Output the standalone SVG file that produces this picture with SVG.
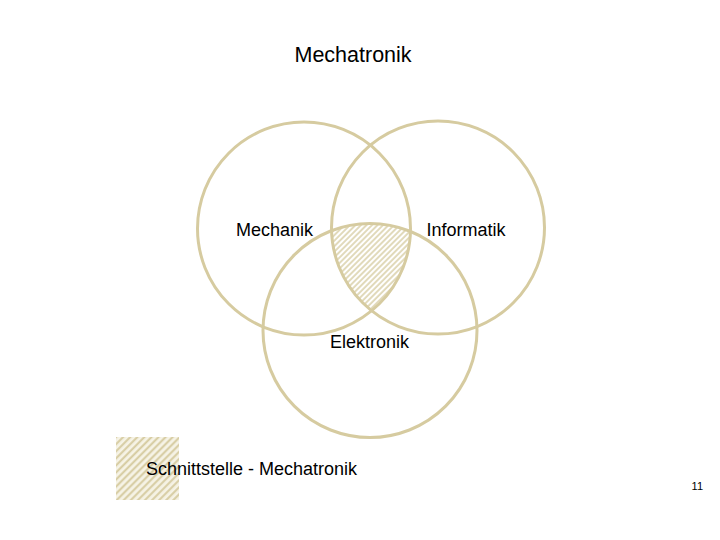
<svg xmlns="http://www.w3.org/2000/svg" width="720" height="540" viewBox="0 0 720 540">
<style>
.ring{fill:none;stroke:#D6CBA0;stroke-width:3}
.lbl{font-family:"Liberation Sans",Arial,sans-serif;font-size:18px;fill:#000}
</style>
<defs>
<pattern id="hatch" width="3.9" height="3.9" patternUnits="userSpaceOnUse" patternTransform="rotate(45)">
<rect width="3.9" height="3.9" fill="#fff"/>
<line x1="1" y1="0" x2="1" y2="3.9" stroke="#D6CBA0" stroke-width="1.4"/>
</pattern>
<pattern id="hatchL" width="5" height="5" patternUnits="userSpaceOnUse" patternTransform="rotate(45)">
<rect width="5" height="5" fill="#F6F3E6"/>
<line x1="1.2" y1="0" x2="1.2" y2="5" stroke="#D6CBA0" stroke-width="2"/>
</pattern>
<clipPath id="cMech"><circle cx="304" cy="228.5" r="106.5"/></clipPath>
<clipPath id="cInfo"><circle cx="438" cy="227.5" r="106.5"/></clipPath>
</defs>
<rect width="720" height="540" fill="#fff"/>
<text class="lbl" x="294.5" y="61.5" style="font-size:21.5px">Mechatronik</text>
<g id="intersection" clip-path="url(#cMech)"><g clip-path="url(#cInfo)"><circle cx="370" cy="330.5" r="107" fill="url(#hatch)"/></g></g>
<g id="mechanik"><circle class="ring" cx="304" cy="228.5" r="106.5"/><text class="lbl" x="236" y="236">Mechanik</text></g>
<g id="informatik"><circle class="ring" cx="438" cy="227.5" r="106.5"/><text class="lbl" x="426.5" y="236">Informatik</text></g>
<g id="elektronik"><circle class="ring" cx="370" cy="330.5" r="107"/><text class="lbl" x="330" y="347.5">Elektronik</text></g>
<g id="connectors"></g>
<g id="legend"><rect x="116" y="437" width="63" height="63" fill="url(#hatchL)"/><text class="lbl" x="146" y="475">Schnittstelle - Mechatronik</text></g>
<text x="703" y="490" text-anchor="end" style="font-family:'Liberation Sans',Arial,sans-serif;font-size:11px;fill:#000">11</text>
</svg>
